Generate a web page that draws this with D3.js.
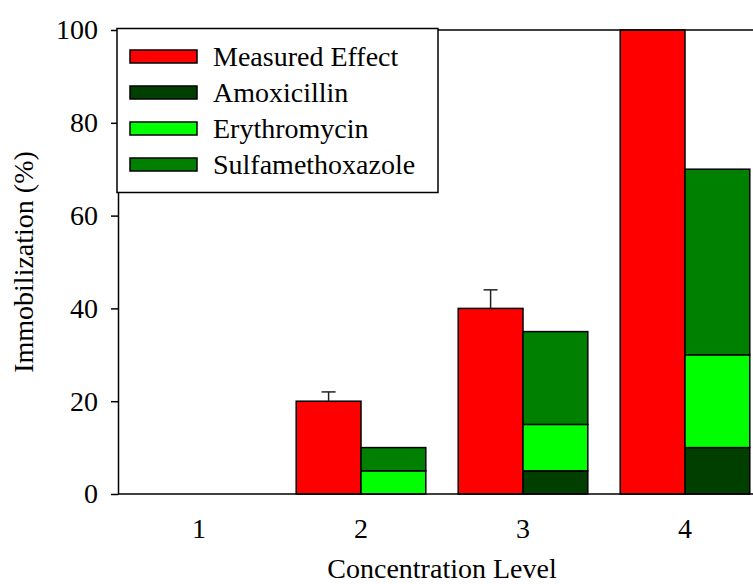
<!DOCTYPE html>
<html>
<head>
<meta charset="utf-8">
<script src="https://cdn.jsdelivr.net/npm/d3@7"></script>
<style>
  html, body { margin: 0; padding: 0; background: #fff; }
  svg { display: block; font-family: "Liberation Serif", "Times New Roman", serif; }
</style>
</head>
<body>
<svg id="chart" width="753" height="584"></svg>
<script>
// Concentration levels on the x axis
const levels = ["1", "2", "3", "4"];

// Measured immobilization (%) with error (SD)
const measured = [0, 20, 40, 100];
const measuredErr = [0, 2, 4, 0];

// Predicted contributions per antibiotic (%), stacked
const amoxicillin = [0, 0, 5, 10];
const erythromycin = [0, 5, 10, 20];
const sulfamethoxazole = [0, 5, 20, 40];

const yTicks = [0, 20, 40, 60, 80, 100];

const seriesNames = ["Measured Effect", "Amoxicillin", "Erythromycin", "Sulfamethoxazole"];
const colors = {
  "Measured Effect": "#ff0000",
  "Amoxicillin": "#003f00",
  "Erythromycin": "#00ff00",
  "Sulfamethoxazole": "#008000"
};

const svg = d3.select("#chart");
const plotLeft = 118, plotRight = 766, plotTop = 30, plotBottom = 494;

const x = d3.scaleBand().domain(levels).range([plotLeft, plotRight])
  .paddingInner(0.2).paddingOuter(0.1);
const sub = d3.scaleBand().domain(["measured", "predicted"]).range([0, x.bandwidth()]);
const y = d3.scaleLinear().domain([0, 100]).range([plotBottom, plotTop]);

// Measured bars
const mData = levels.map((l, i) => ({ level: l, v: measured[i], e: measuredErr[i] }));
svg.append("g").selectAll("rect").data(mData.filter(d => d.v > 0)).join("rect")
  .attr("x", d => x(d.level) + sub("measured"))
  .attr("y", d => y(d.v))
  .attr("width", sub.bandwidth())
  .attr("height", d => y(0) - y(d.v))
  .attr("fill", colors["Measured Effect"])
  .attr("stroke", "#000").attr("stroke-width", 1.5);

// Error bars (upper only)
const eg = svg.append("g").attr("stroke", "#222").attr("stroke-width", 1.5);
mData.filter(d => d.e > 0).forEach(d => {
  const cx = x(d.level) + sub("measured") + sub.bandwidth() / 2;
  eg.append("line").attr("x1", cx).attr("x2", cx).attr("y1", y(d.v)).attr("y2", y(d.v + d.e));
  eg.append("line").attr("x1", cx - 7).attr("x2", cx + 7).attr("y1", y(d.v + d.e)).attr("y2", y(d.v + d.e));
});

// Stacked predicted bars
const table = levels.map((l, i) => ({
  level: l,
  "Amoxicillin": amoxicillin[i],
  "Erythromycin": erythromycin[i],
  "Sulfamethoxazole": sulfamethoxazole[i]
}));
const stack = d3.stack().keys(["Amoxicillin", "Erythromycin", "Sulfamethoxazole"])(table);
svg.append("g").selectAll("g").data(stack).join("g")
  .attr("fill", s => colors[s.key])
  .selectAll("rect").data(s => s.filter(d => d[1] - d[0] > 0)).join("rect")
  .attr("x", d => x(d.data.level) + sub("predicted"))
  .attr("y", d => y(d[1]))
  .attr("width", sub.bandwidth())
  .attr("height", d => y(d[0]) - y(d[1]))
  .attr("stroke", "#000").attr("stroke-width", 1.5);

// Frame line along the top
svg.append("line").attr("x1", plotLeft).attr("x2", 753).attr("y1", plotTop).attr("y2", plotTop)
  .attr("stroke", "#000").attr("stroke-width", 1.5);

// X axis (no tick marks)
const xAxis = svg.append("g").attr("transform", `translate(0,${plotBottom})`)
  .call(d3.axisBottom(x).tickSize(0).tickPadding(24));
xAxis.select(".domain").attr("stroke-width", 1.5).attr("d", `M${plotLeft},0H753`);
xAxis.selectAll("text").attr("font-family", "Liberation Serif, serif").attr("font-size", 28).attr("fill", "#000");

// Y axis
const yAxis = svg.append("g").attr("transform", `translate(${plotLeft},0)`)
  .call(d3.axisLeft(y).tickValues(yTicks).tickSize(7).tickSizeOuter(0).tickPadding(13));
yAxis.select(".domain").attr("stroke-width", 1.5);
yAxis.selectAll(".tick line").attr("stroke-width", 1.5);
yAxis.selectAll("text").attr("font-family", "Liberation Serif, serif").attr("font-size", 28).attr("fill", "#000");

// Axis titles
svg.append("text").attr("x", (plotLeft + plotRight) / 2).attr("y", 578)
  .attr("text-anchor", "middle").attr("font-size", 28).text("Concentration Level");
svg.append("text").attr("transform", `translate(33,${(plotTop + plotBottom) / 2}) rotate(-90)`)
  .attr("text-anchor", "middle").attr("font-size", 28).text("Immobilization (%)");

// Legend
const lg = svg.append("g");
lg.append("rect").attr("x", 117).attr("y", 28.5).attr("width", 321).attr("height", 164)
  .attr("fill", "#fff").attr("stroke", "#000").attr("stroke-width", 1.5);
seriesNames.forEach((name, i) => {
  const cy = 56.5 + i * 36;
  lg.append("rect").attr("x", 130).attr("y", cy - 6.5).attr("width", 67).attr("height", 13)
    .attr("fill", colors[name]).attr("stroke", "#000").attr("stroke-width", 1.5);
  lg.append("text").attr("x", 213).attr("y", cy + 9).attr("font-size", 28).text(name);
});
</script>
</body>
</html>
